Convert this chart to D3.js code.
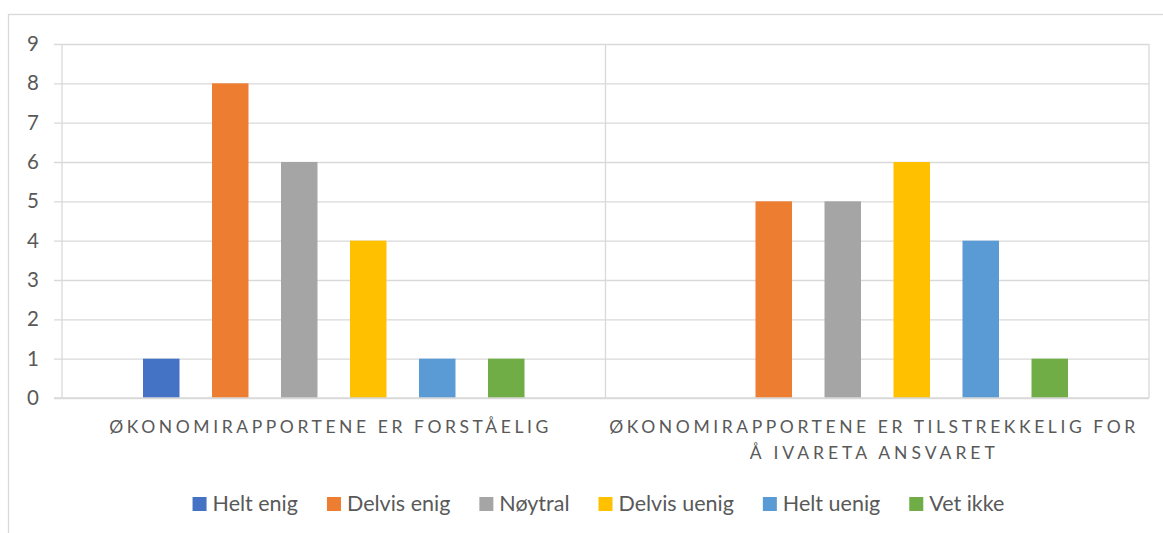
<!DOCTYPE html>
<html><head><meta charset="utf-8">
<script src="https://cdn.jsdelivr.net/npm/d3@7"></script>
<style>
html,body{margin:0;padding:0;background:#fff;}
svg{display:block;}
text{font-family:Lato,"Open Sans",sans-serif;fill:#595959;}
</style></head>
<body>
<svg id="chart" width="1163" height="533"></svg>
<script>
const categories = [
  ["ØKONOMIRAPPORTENE ER FORSTÅELIG"],
  ["ØKONOMIRAPPORTENE ER TILSTREKKELIG FOR", "Å IVARETA ANSVARET"]
];
const seriesNames = ["Helt enig", "Delvis enig", "Nøytral", "Delvis uenig", "Helt uenig", "Vet ikke"];
const seriesColors = ["#4472C4", "#ED7D31", "#A5A5A5", "#FFC000", "#5B9BD5", "#70AD47"];
const values1 = [1, 8, 6, 4, 1, 1];
const values2 = [0, 5, 5, 6, 4, 1];
const yTicks = [0, 1, 2, 3, 4, 5, 6, 7, 8, 9];

const data = [values1, values2];
const svg = d3.select("#chart");
const W = 1163, H = 533;
const plot = {left: 62, right: 1149, top: 44, bottom: 398};

// chart border
svg.append("rect").attr("x", 8.5).attr("y", 14.5).attr("width", W + 20).attr("height", H + 20)
  .attr("fill", "none").attr("stroke", "#D9D9D9").attr("stroke-width", 1.3);

const x0 = d3.scaleBand().domain(d3.range(categories.length)).range([plot.left, plot.right]).padding(0);
const x1 = d3.scaleBand().domain(seriesNames).range([0, x0.bandwidth()]).paddingInner(0.471).paddingOuter(1.174);
const y = d3.scaleLinear().domain([0, 9]).range([plot.bottom, plot.top]);

// gridlines + tick labels
const ga = svg.append("g").attr("transform", `translate(${plot.right},0)`);
ga.call(d3.axisLeft(y).tickValues(yTicks).tickSize(plot.right - plot.left + 8).tickFormat(d3.format("d")).tickPadding(15));
ga.select(".domain").remove();
ga.selectAll(".tick line").attr("stroke", "#D9D9D9").attr("stroke-width", 1.3);
ga.selectAll(".tick text").style("font-size", "20.5px").style("fill", "#595959").style("font-family", "Lato, sans-serif");

// vertical category separators
const seps = [plot.left, ...d3.range(1, categories.length).map(i => x0(i)), plot.right];
svg.append("g").selectAll("line").data(seps).join("line")
  .attr("x1", d => d).attr("x2", d => d).attr("y1", plot.top).attr("y2", plot.bottom)
  .attr("stroke", "#D9D9D9").attr("stroke-width", 1.3);

// bars
const groups = svg.append("g").selectAll("g").data(data).join("g")
  .attr("transform", (d, i) => `translate(${x0(i)},0)`);
groups.selectAll("rect").data(d => d.map((v, j) => ({v, s: seriesNames[j], c: seriesColors[j]})).filter(e => e.v > 0))
  .join("rect")
  .attr("x", d => x1(d.s)).attr("width", x1.bandwidth())
  .attr("y", d => y(d.v)).attr("height", d => y(0) - y(d.v))
  .attr("fill", d => d.c);

// baseline on top
svg.append("line").attr("x1", plot.left - 8).attr("x2", plot.right).attr("y1", y(0)).attr("y2", y(0))
  .attr("stroke", "#D9D9D9").attr("stroke-width", 1.3);

// category labels (letter-spaced caps)
const labelWidths = [[439], [526, 245]];
categories.forEach((lines, i) => {
  lines.forEach((line, k) => {
    svg.append("text")
      .attr("x", x0(i) + x0.bandwidth() / 2 - 5)
      .attr("y", 433 + k * 26)
      .attr("text-anchor", "middle")
      .style("font-size", "17.5px")
      .attr("textLength", labelWidths[i][k])
      .attr("lengthAdjust", "spacing")
      .text(line);
  });
});

// legend
const lg = svg.append("g");
const items = lg.selectAll("g").data(seriesNames).join("g");
items.append("rect").attr("width", 14).attr("height", 14).attr("y", -14).attr("fill", (d, i) => seriesColors[i]);
items.append("text").attr("x", 20).attr("y", 0).style("font-size", "21.5px").text(d => d);
let xpos = 0;
const gap = 29;
items.each(function() {
  const w = 20 + d3.select(this).select("text").node().getComputedTextLength();
  d3.select(this).attr("transform", `translate(${xpos},0)`);
  xpos += w + gap;
});
const total = xpos - gap;
lg.attr("transform", `translate(${598.5 - total / 2},511)`);
</script>
</body></html>
